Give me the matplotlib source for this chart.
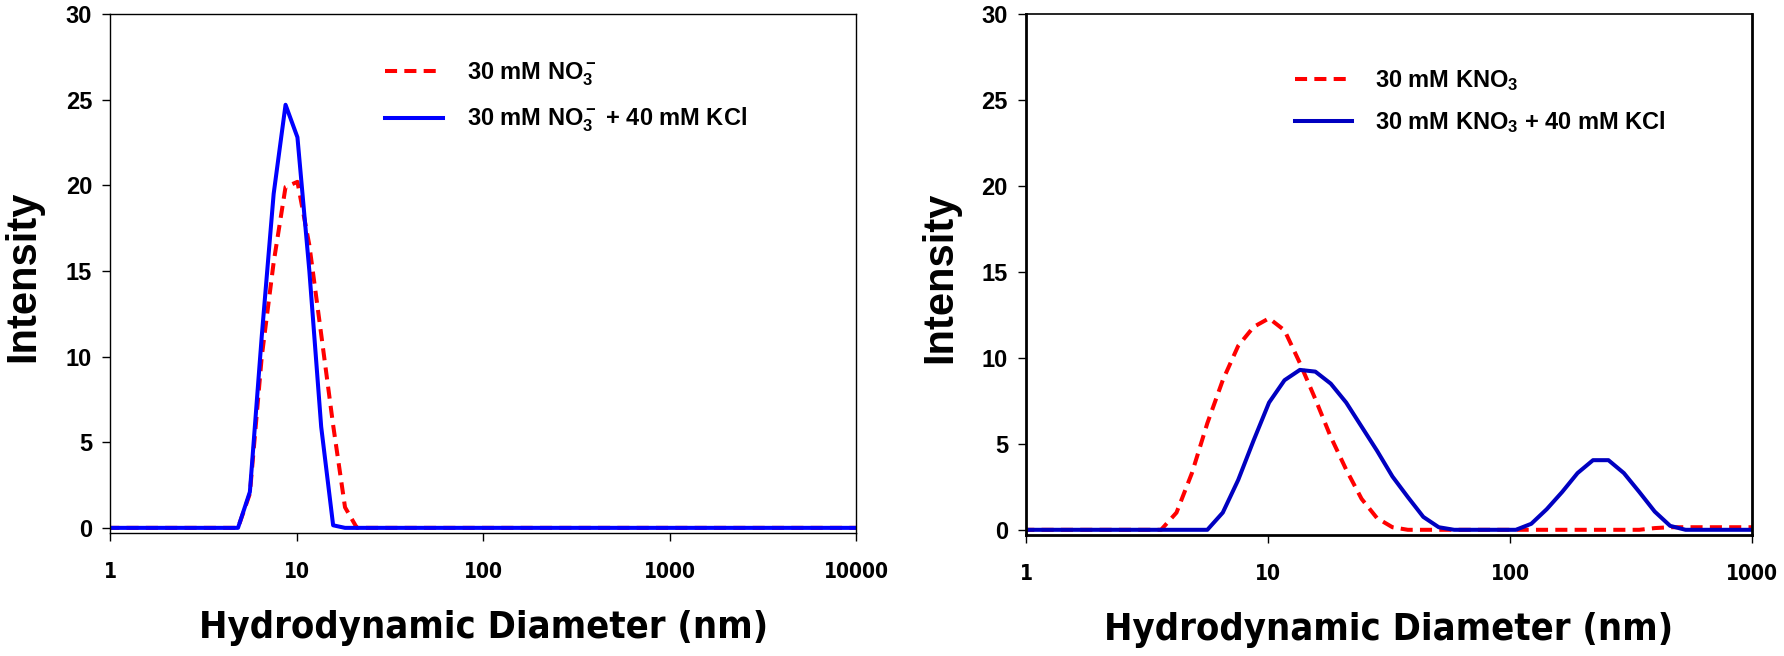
import matplotlib
matplotlib.use("Agg")
import matplotlib.pyplot as plt
from matplotlib import font_manager
from matplotlib.font_manager import FontProperties

# DLS size bins (nm)
size_nm = [0.9649, 1.117, 1.294, 1.499, 1.736, 2.010, 2.328, 2.696, 3.122, 3.615,
           4.187, 4.849, 5.615, 6.503, 7.531, 8.721, 10.10, 11.70, 13.54, 15.69,
           18.17, 21.04, 24.36, 28.21, 32.67, 37.84, 43.82, 50.75, 58.77, 68.06,
           78.82, 91.28, 105.7, 122.4, 141.8, 164.2, 190.1, 220.2, 255.0, 295.3,
           342.0, 396.1, 458.7, 531.2, 615.1, 712.4, 825.0, 955.4, 1106, 1281,
           1484, 1718, 1990, 2305, 2669, 3091, 3580, 4145, 4801, 5560,
           6439, 7456, 8635, 10000]

# left panel: NO3- with / without KCl
no3 = [0, 0, 0, 0, 0, 0, 0, 0, 0, 0,
       0, 0, 2.0, 10.0, 15.5, 19.9, 20.2, 16.5, 11.3, 6.0,
       1.2, 0, 0, 0, 0, 0, 0, 0, 0, 0,
       0, 0, 0, 0, 0, 0, 0, 0, 0, 0,
       0, 0, 0, 0, 0, 0, 0, 0, 0, 0,
       0, 0, 0, 0, 0, 0, 0, 0, 0, 0,
       0, 0, 0, 0]
no3_kcl = [0, 0, 0, 0, 0, 0, 0, 0, 0, 0,
           0, 0, 2.1, 11.2, 19.5, 24.7, 22.8, 15.0, 5.9, 0.15,
           0, 0, 0, 0, 0, 0, 0, 0, 0, 0,
           0, 0, 0, 0, 0, 0, 0, 0, 0, 0,
           0, 0, 0, 0, 0, 0, 0, 0, 0, 0,
           0, 0, 0, 0, 0, 0, 0, 0, 0, 0,
           0, 0, 0, 0]

# right panel: KNO3 with / without KCl
kno3 = [0, 0, 0, 0, 0, 0, 0, 0, 0, 0,
        1.0, 3.3, 6.2, 8.7, 10.7, 11.8, 12.3, 11.6, 9.7, 7.6,
        5.4, 3.5, 1.8, 0.68, 0.15, 0, 0, 0, 0, 0,
        0, 0, 0, 0, 0, 0, 0, 0, 0, 0,
        0, 0.1, 0.15, 0.15, 0.15, 0.15, 0.15, 0.15, 0.15, 0.15,
        0.15, 0.15, 0.15, 0.15, 0.15, 0.15, 0.15, 0.15, 0.15, 0.15,
        0.15, 0.15, 0.15, 0.15]
kno3_kcl = [0, 0, 0, 0, 0, 0, 0, 0, 0, 0,
            0, 0, 0, 1.0, 2.9, 5.2, 7.4, 8.7, 9.3, 9.2,
            8.5, 7.4, 6.0, 4.6, 3.1, 1.9, 0.75, 0.15, 0, 0,
            0, 0, 0, 0.35, 1.2, 2.2, 3.3, 4.05, 4.05, 3.3,
            2.2, 1.06, 0.23, 0, 0, 0, 0, 0, 0, 0,
            0, 0, 0, 0, 0, 0, 0, 0, 0, 0,
            0, 0, 0, 0]

y_ticks = [0, 5, 10, 15, 20, 25, 30]
left_xticks = [1, 10, 100, 1000, 10000]
right_xticks = [1, 10, 100, 1000]

# look for a narrow bold face for the x axis texts
narrow_file = None
for f in font_manager.fontManager.ttflist:
    is_narrow = ('Narrow' in f.name or 'Condensed' in f.name
                 or f.stretch in ('condensed', 'semi-condensed', 'extra-condensed'))
    if is_narrow and f.weight in ('bold', 700) and 'Oblique' not in f.fname and 'Italic' not in f.fname:
        narrow_file = f.fname
        break


def narrow_fp(size):
    if narrow_file:
        return FontProperties(fname=narrow_file, size=size)
    return FontProperties(family='Liberation Sans', weight='bold', size=size * 1.05)


plt.rcParams['font.family'] = ['Liberation Sans', 'DejaVu Sans']
plt.rcParams['font.weight'] = 'bold'
plt.rcParams['mathtext.fontset'] = 'custom'
plt.rcParams['mathtext.rm'] = 'Liberation Sans:bold'
plt.rcParams['mathtext.it'] = 'Liberation Sans:bold'
plt.rcParams['mathtext.bf'] = 'Liberation Sans:bold'

fig = plt.figure(figsize=(17.84, 6.56), dpi=100)
ax1 = fig.add_axes([0.0617, 0.1875, 0.4183, 0.7912])
ax2 = fig.add_axes([0.5751, 0.1845, 0.4070, 0.7942])


def style_axis(ax, xmax, xticks, spine_w, top_w):
    ax.set_xscale('log')
    ax.set_xlim(1, xmax)
    ax.set_ylim(-0.3, 30)
    ax.set_xticks(xticks)
    ax.set_xticklabels([str(t) for t in xticks], fontproperties=narrow_fp(15))
    ax.xaxis.set_minor_locator(matplotlib.ticker.NullLocator())
    ax.set_yticks(y_ticks)
    ax.set_yticklabels([str(t) for t in y_ticks], fontsize=17, fontweight='bold')
    ax.tick_params(axis='x', direction='out', length=6, width=1, pad=15)
    ax.tick_params(axis='y', direction='out', length=6, width=1, pad=7)
    for s in ['left', 'bottom', 'right']:
        ax.spines[s].set_linewidth(spine_w)
    ax.spines['top'].set_linewidth(top_w)
    ax.set_xlabel('Hydrodynamic Diameter (nm)', fontproperties=narrow_fp(27.3))
    ax.xaxis.set_label_coords(0.5, -0.148)
    ax.set_ylabel('Intensity', fontsize=30, fontweight='bold')
    ax.yaxis.set_label_coords(-0.09, 0.495)


# Left panel
ax1.plot(size_nm, no3, color='#FF0000', lw=2.9, dashes=(3, 1.8),
         label=r'30 mM NO$_3^{\bf -}$')
ax1.plot(size_nm, no3_kcl, color='#0000FF', lw=2.9,
         label=r'30 mM NO$_3^{\bf -}$ + 40 mM KCl')
style_axis(ax1, 10000, left_xticks, 1.0, 1.0)
ax1.legend(loc='upper left', bbox_to_anchor=(0.369, 0.91), frameon=False,
           handlelength=2.45, handletextpad=1.0, labelspacing=0.75,
           borderpad=0, borderaxespad=0, prop={'weight': 'bold', 'size': 17})

# Right panel
ax2.plot(size_nm, kno3, color='#FF0000', lw=2.9, dashes=(3, 1.8),
         label=r'30 mM KNO$_3$')
ax2.plot(size_nm, kno3_kcl, color='#0000C0', lw=2.9,
         label=r'30 mM KNO$_3$ + 40 mM KCl')
style_axis(ax2, 1000, right_xticks, 2.0, 1.2)
ax2.legend(loc='upper left', bbox_to_anchor=(0.37, 0.896), frameon=False,
           handlelength=2.45, handletextpad=0.95, labelspacing=0.7,
           borderpad=0, borderaxespad=0, prop={'weight': 'bold', 'size': 17})

fig.savefig('out.png', dpi=100)
